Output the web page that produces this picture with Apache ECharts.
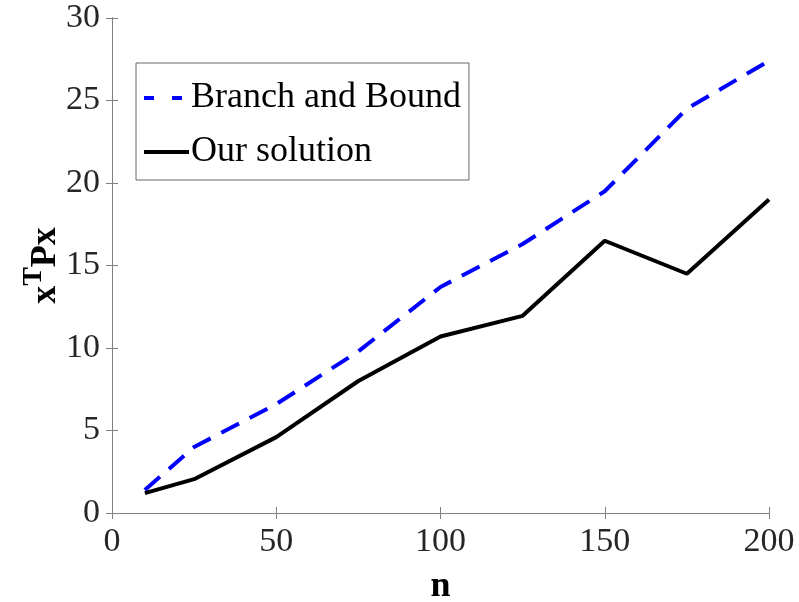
<!DOCTYPE html>
<html><head><meta charset="utf-8">
<script src="https://cdn.jsdelivr.net/npm/echarts@6/dist/echarts.min.js"></script>
<style>html,body{margin:0;padding:0;background:#fff}#c{width:799px;height:602px}</style>
</head><body><div id="c"></div>
<script>
const nValues = [10, 25, 50, 75, 100, 125, 150, 175, 200];
const branchAndBound = [1.4, 4.0, 6.6, 9.8, 13.7, 16.3, 19.5, 24.5, 27.4];
const ourSolution = [1.2, 2.05, 4.6, 8.0, 10.7, 11.95, 16.5, 14.5, 19.0];
const seriesNames = ['Branch and Bound', 'Our solution'];

const font = 'Liberation Serif';
const axisGray = '#808080';
const dashPattern = [20, 12];
const chart = echarts.init(document.getElementById('c'));
const baseAxis = {
  axisLine: {show: true, lineStyle: {color: axisGray, width: 1}},
  axisTick: {show: true, inside: true, length: 6, lineStyle: {color: axisGray}},
  splitLine: {show: false}
};
chart.setOption({
  animation: false,
  grid: {left: 112, right: 30, top: 18, bottom: 89, containLabel: false, outerBoundsMode: 'none'},
  legend: {
    orient: 'vertical', left: 136, top: 63,
    padding: [17, 8, 10, 6], itemGap: 18,
    itemWidth: 45, itemHeight: 20,
    borderColor: '#666', borderWidth: 1, backgroundColor: '#fff',
    itemStyle: {opacity: 0},
    textStyle: {fontFamily: font, fontSize: 36, color: '#000', padding: [0, 0, 0, -3]},
    data: [
      {name: seriesNames[0], itemStyle: {opacity: 0}, lineStyle: {color: '#0000ff', width: 4, type: [10, 18], opacity: 1}},
      {name: seriesNames[1], itemStyle: {opacity: 0}, lineStyle: {color: '#000', width: 4, type: 'solid', opacity: 1}}
    ]
  },
  xAxis: [
    Object.assign({}, baseAxis, {
      type: 'value', min: 0, max: 200, interval: 50,
      axisLabel: {fontFamily: font, fontSize: 34, color: '#262626', margin: 12},
      name: 'n', nameLocation: 'middle', nameGap: 56, nameMoveOverlap: false,
      nameTextStyle: {fontFamily: font, fontSize: 36, fontWeight: 'bold', color: '#000'}
    }),
    Object.assign({}, baseAxis, {
      type: 'value', min: 0, max: 200, interval: 50, position: 'top',
      axisLabel: {show: false}
    })
  ],
  yAxis: [
    Object.assign({}, baseAxis, {
      type: 'value', min: 0, max: 30, interval: 5,
      axisLabel: {fontFamily: font, fontSize: 34, color: '#262626', margin: 12},
      name: '{x|x}{t|T}{p|Px}', nameLocation: 'middle', nameGap: 48, nameMoveOverlap: false,
      nameTextStyle: {
        fontFamily: font, fontWeight: 'bold', color: '#000',
        rich: {
          x: {fontFamily: font, fontSize: 36, fontWeight: 'bold', verticalAlign: 'bottom', lineHeight: 44},
          t: {fontFamily: font, fontSize: 28, fontWeight: 'bold', verticalAlign: 'top', lineHeight: 32},
          p: {fontFamily: font, fontSize: 36, fontWeight: 'bold', verticalAlign: 'bottom', lineHeight: 44}
        }
      }
    }),
    Object.assign({}, baseAxis, {
      type: 'value', min: 0, max: 30, interval: 5, position: 'right',
      axisLabel: {show: false}
    })
  ],
  series: [
    {
      name: seriesNames[0], type: 'line', symbol: 'none',
      data: nValues.map((n, i) => [n, branchAndBound[i]]),
      lineStyle: {color: '#0000ff', width: 4, type: dashPattern},
      itemStyle: {color: '#0000ff'}
    },
    {
      name: seriesNames[1], type: 'line', symbol: 'none',
      data: nValues.map((n, i) => [n, ourSolution[i]]),
      lineStyle: {color: '#000', width: 4},
      itemStyle: {color: '#000'}
    }
  ]
});
</script></body></html>
